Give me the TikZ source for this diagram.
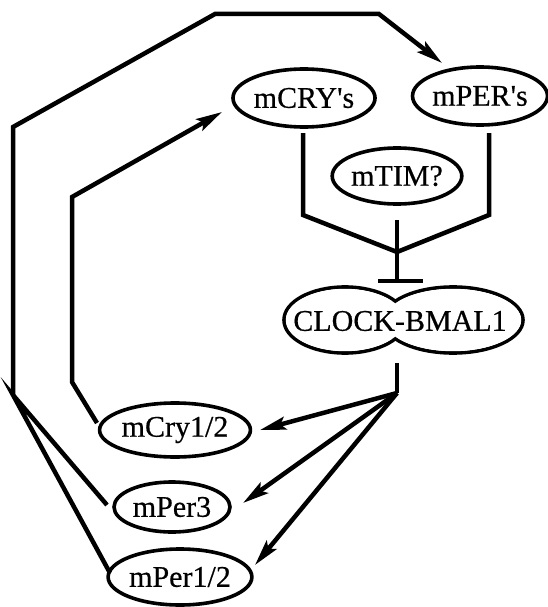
\documentclass[tikz,border=0pt]{standalone}
\usepackage{fontspec}
\setmainfont{Liberation Serif}[FakeBold=0.5]
\usetikzlibrary{shapes.geometric,arrows.meta}
\begin{document}
\begin{tikzpicture}[x=1pt,y=-1pt,
  lbl/.style={ellipse,draw,line width=3.6pt,inner sep=0pt,font=\fontsize{30}{36}\selectfont},
  conn/.style={line width=4.5pt,line join=miter},
  arr/.style={conn,-{Stealth[length=26pt,width=13pt,inset=5pt]}}]
\useasboundingbox (0,0) rectangle (547,607);
% nodes
\node[lbl,minimum width=134pt,minimum height=58pt] (cry) at (304,98) {mCRY\textquotesingle s};
\node[lbl,minimum width=126pt,minimum height=58pt] (per) at (480,96) {mPER\textquotesingle s};
\node[lbl,minimum width=128pt,minimum height=56pt] (tim) at (397,176) {mTIM?};
\node[lbl,minimum width=146pt,minimum height=54pt] (cry12) at (175,430) {mCry1/2};
\node[lbl,minimum width=116pt,minimum height=50pt] (per3) at (172,507) {mPer3};
\node[lbl,minimum width=134pt,minimum height=56pt] (per12) at (180,577) {mPer1/2};
% CLOCK-BMAL1 double ellipse
\draw[line width=3.6pt] (345,320) ellipse [x radius=61, y radius=33];
\draw[line width=3.6pt] (453,320) ellipse [x radius=70, y radius=33];
\fill[white] (345,320) ellipse [x radius=59.2, y radius=31.2];
\fill[white] (453,320) ellipse [x radius=68.2, y radius=31.2];
\node[font=\fontsize{30}{36}\selectfont,inner sep=0pt] (clock) at (400,321) {CLOCK-BMAL1};
% coordinates
\coordinate (o0) at (13,395);
\coordinate (o1) at (13,127);
\coordinate (o2) at (215,14);
\coordinate (o3) at (379,14);
\coordinate (o4) at (442,63);
\coordinate (i0) at (97,423);
\coordinate (i1) at (72,382);
\coordinate (i2) at (72,197);
\coordinate (i3) at (222,112);
\coordinate (f1) at (107,505);
\coordinate (f2) at (110,573);
\coordinate (b0) at (303,133);
\coordinate (b1) at (303,215);
\coordinate (bj) at (397,252);
\coordinate (b2) at (489,215);
\coordinate (b3) at (489,133);
\coordinate (h0) at (397,220);
\coordinate (h1) at (397,281);
\coordinate (c0) at (397,363);
\coordinate (c1) at (397,393);
\coordinate (t1) at (260,430);
\coordinate (t2) at (243,503);
\coordinate (t3) at (255,565);
% connectors
\draw[arr] (o0) -- (o1) -- (o2) -- (o3) -- (o4);
\draw[arr] (i0) -- (i1) -- (i2) -- (i3);
\draw[conn] (f1) -- (o0) -- (f2);
\draw[conn] (b0) -- (b1) -- (bj) -- (b2) -- (b3);
\draw[conn] (h0) -- (h1);
\draw[conn] ([xshift=-19pt]h1) -- ([xshift=26pt]h1);
\draw[conn] (c0) -- (c1);
\draw[arr] (c1) -- (t1);
\draw[arr] (c1) -- (t2);
\draw[arr] (c1) -- (t3);
\end{tikzpicture}
\end{document}
